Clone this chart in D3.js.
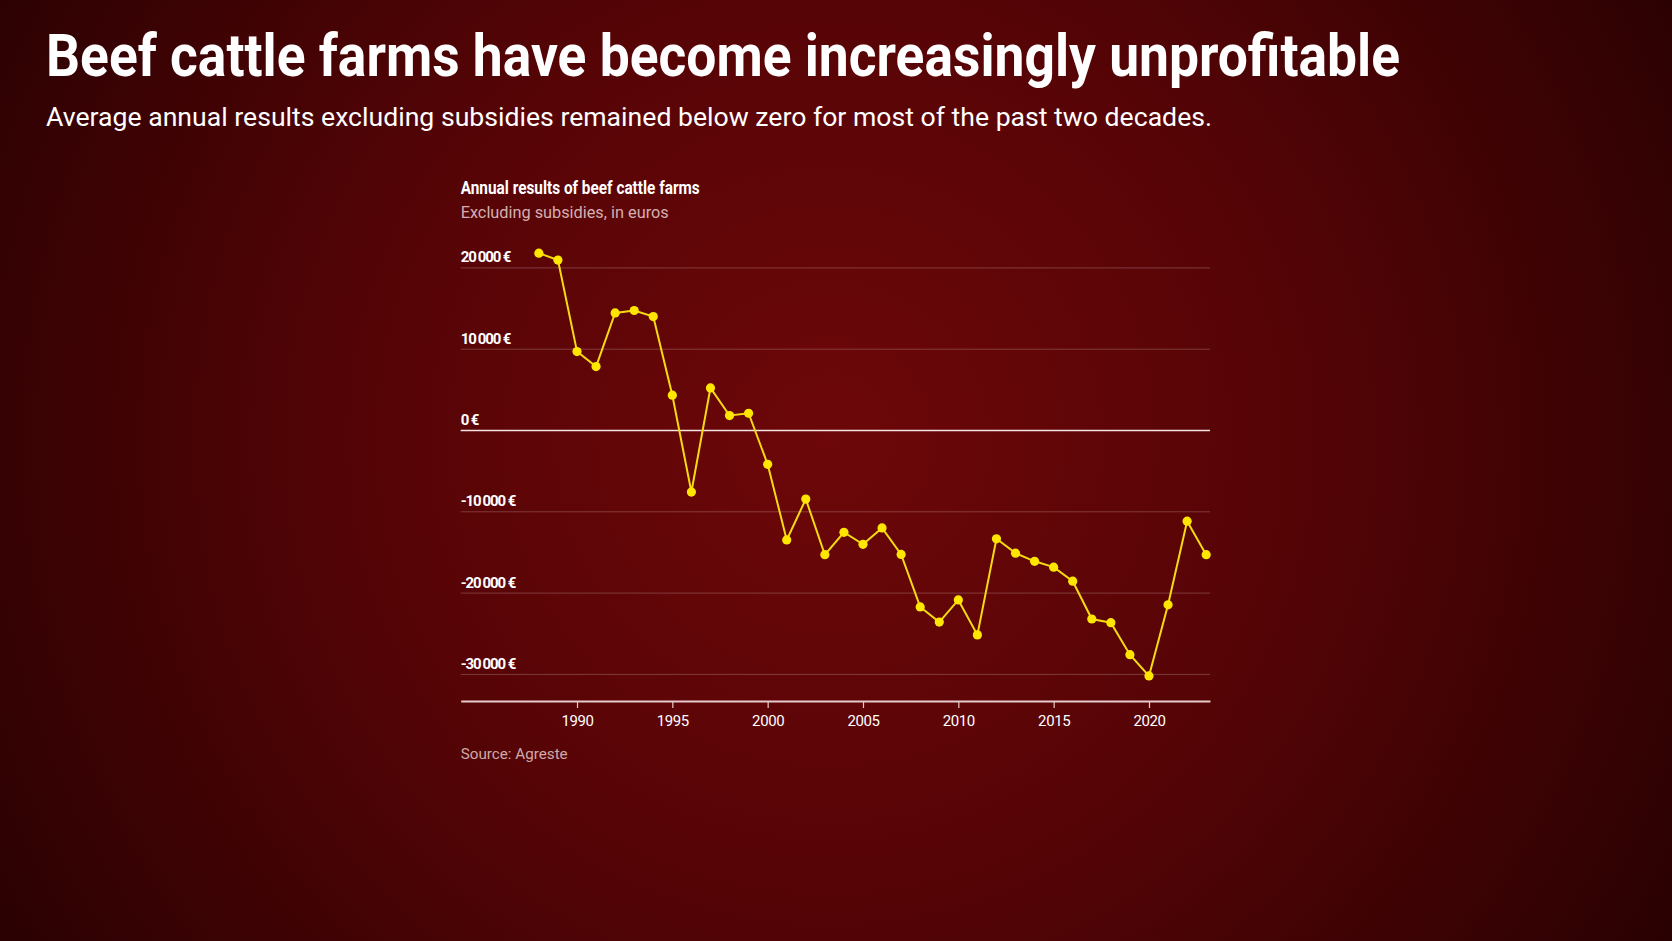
<!DOCTYPE html>
<html>
<head>
<meta charset="utf-8">
<script src="https://cdn.jsdelivr.net/npm/d3@7"></script>
<style>
  body { margin: 0; background: #3a0304; overflow: hidden; }
  svg { display: block; }
</style>
</head>
<body>
<svg id="chart"></svg>
<script>
var years = [1988, 1989, 1990, 1991, 1992, 1993, 1994, 1995, 1996, 1997, 1998, 1999,
             2000, 2001, 2002, 2003, 2004, 2005, 2006, 2007, 2008, 2009, 2010, 2011,
             2012, 2013, 2014, 2015, 2016, 2017, 2018, 2019, 2020, 2021, 2022, 2023];
var results = [21750, 20900, 9650, 7800, 14400, 14700, 13950, 4280, -7630, 5180, 1780, 2060,
               -4220, -13520, -8500, -15340, -12580, -14060, -12050, -15300, -21760, -23620, -20900, -25200,
               -13380, -15150, -16150, -16870, -18600, -23250, -23700, -27640, -30250, -21500, -11220, -15340];
var yTicks = [20000, 10000, 0, -10000, -20000, -30000];
var xTicks = [1990, 1995, 2000, 2005, 2010, 2015, 2020];

var title = 'Beef cattle farms have become increasingly unprofitable';
var subtitle = 'Average annual results excluding subsidies remained below zero for most of the past two decades.';
var chartTitle = 'Annual results of beef cattle farms';
var chartSubtitle = 'Excluding subsidies, in euros';
var source = 'Source: Agreste';

var W = 1672, H = 941;
var plotLeft = 460.7, plotRight = 1210, plotTop = 267.4, plotBottom = 701;

var svg = d3.select('#chart').attr('width', W).attr('height', H);

// background glow
var grad = svg.append('defs').append('radialGradient')
    .attr('id', 'bg')
    .attr('gradientUnits', 'userSpaceOnUse')
    .attr('cx', 830).attr('cy', 440).attr('r', 1000);
grad.append('stop').attr('offset', '0%').attr('stop-color', '#6d0709');
grad.append('stop').attr('offset', '45%').attr('stop-color', '#560406');
grad.append('stop').attr('offset', '100%').attr('stop-color', '#280102');
svg.append('rect').attr('width', W).attr('height', H).attr('fill', 'url(#bg)');

var x = d3.scaleLinear().domain([1983.9, 2023.2]).range([plotLeft, plotRight]);
var y = d3.scaleLinear().domain([0, 20000]).range([430, plotTop]);

function euro(d) {
    var s = d3.format(',')(Math.abs(d)).replace(/,/g, '\u2009');
    return (d < 0 ? '-' : '') + s + '\u00a0€';
}

// headings
svg.append('text')
    .attr('x', 46).attr('y', 76)
    .attr('font-family', 'Roboto, sans-serif').attr('font-weight', 700)
    .attr('font-size', 60).attr('fill', '#ffffff')
    .attr('textLength', 1354).attr('lengthAdjust', 'spacingAndGlyphs')
    .text(title);
svg.append('text')
    .attr('x', 46).attr('y', 125.5)
    .attr('font-family', 'Roboto, sans-serif').attr('font-weight', 400)
    .attr('font-size', 26).attr('fill', '#ffffff')
    .attr('textLength', 1166).attr('lengthAdjust', 'spacingAndGlyphs')
    .text(subtitle);

svg.append('text')
    .attr('x', plotLeft).attr('y', 194.3)
    .attr('font-family', 'Roboto, sans-serif').attr('font-weight', 700)
    .attr('font-size', 17.5).attr('fill', '#ffffff')
    .attr('textLength', 239).attr('lengthAdjust', 'spacingAndGlyphs')
    .text(chartTitle);
svg.append('text')
    .attr('x', plotLeft).attr('y', 217.7)
    .attr('font-family', 'Roboto, sans-serif').attr('font-weight', 400)
    .attr('font-size', 16).attr('fill', '#d4b0b0')
    .attr('textLength', 208).attr('lengthAdjust', 'spacingAndGlyphs')
    .text(chartSubtitle);

// y grid + labels
var yAxis = svg.append('g')
    .attr('transform', 'translate(' + plotLeft + ',0)')
    .call(d3.axisRight(y).tickValues(yTicks).tickSize(plotRight - plotLeft).tickFormat(euro));
yAxis.select('.domain').remove();
yAxis.selectAll('.tick line')
    .attr('stroke', function(d) { return d === 0 ? '#f4e4e4' : 'rgba(255,255,255,0.22)'; })
    .attr('stroke-width', function(d) { return d === 0 ? 1.3 : 1; });
yAxis.selectAll('.tick text')
    .attr('x', 0).attr('dy', -5.5)
    .attr('text-anchor', 'start')
    .attr('font-family', 'Roboto, sans-serif').attr('font-weight', 700)
    .attr('font-size', 15).attr('letter-spacing', -1.1)
    .attr('fill', '#ffffff');

// x axis
var xAxis = svg.append('g')
    .attr('transform', 'translate(0,' + plotBottom + ')')
    .call(d3.axisBottom(x).tickValues(xTicks).tickSize(7).tickSizeOuter(0).tickPadding(7.5)
        .tickFormat(d3.format('d')));
xAxis.select('.domain').attr('stroke', '#e8cccc').attr('stroke-width', 1.8);
xAxis.selectAll('.tick line').attr('stroke', '#e8cccc').attr('stroke-width', 1.2);
xAxis.selectAll('.tick text')
    .attr('font-family', 'Roboto, sans-serif').attr('font-weight', 400)
    .attr('font-size', 15).attr('letter-spacing', -0.4)
    .attr('fill', '#ffffff');

// line + dots
var data = years.map(function(yr, i) { return { year: yr, value: results[i] }; });
var line = d3.line()
    .x(function(d) { return x(d.year); })
    .y(function(d) { return y(d.value); });

svg.append('path')
    .datum(data)
    .attr('d', line)
    .attr('fill', 'none')
    .attr('stroke', '#f5da12')
    .attr('stroke-width', 2);

svg.append('g')
    .selectAll('circle')
    .data(data)
    .enter()
    .append('circle')
    .attr('cx', function(d) { return x(d.year); })
    .attr('cy', function(d) { return y(d.value); })
    .attr('r', 4.6)
    .attr('fill', '#ffe600');

svg.append('text')
    .attr('x', plotLeft).attr('y', 759)
    .attr('font-family', 'Roboto, sans-serif').attr('font-weight', 400)
    .attr('font-size', 15).attr('fill', '#cfaaaa')
    .attr('textLength', 107).attr('lengthAdjust', 'spacingAndGlyphs')
    .text(source);
</script>
</body>
</html>
